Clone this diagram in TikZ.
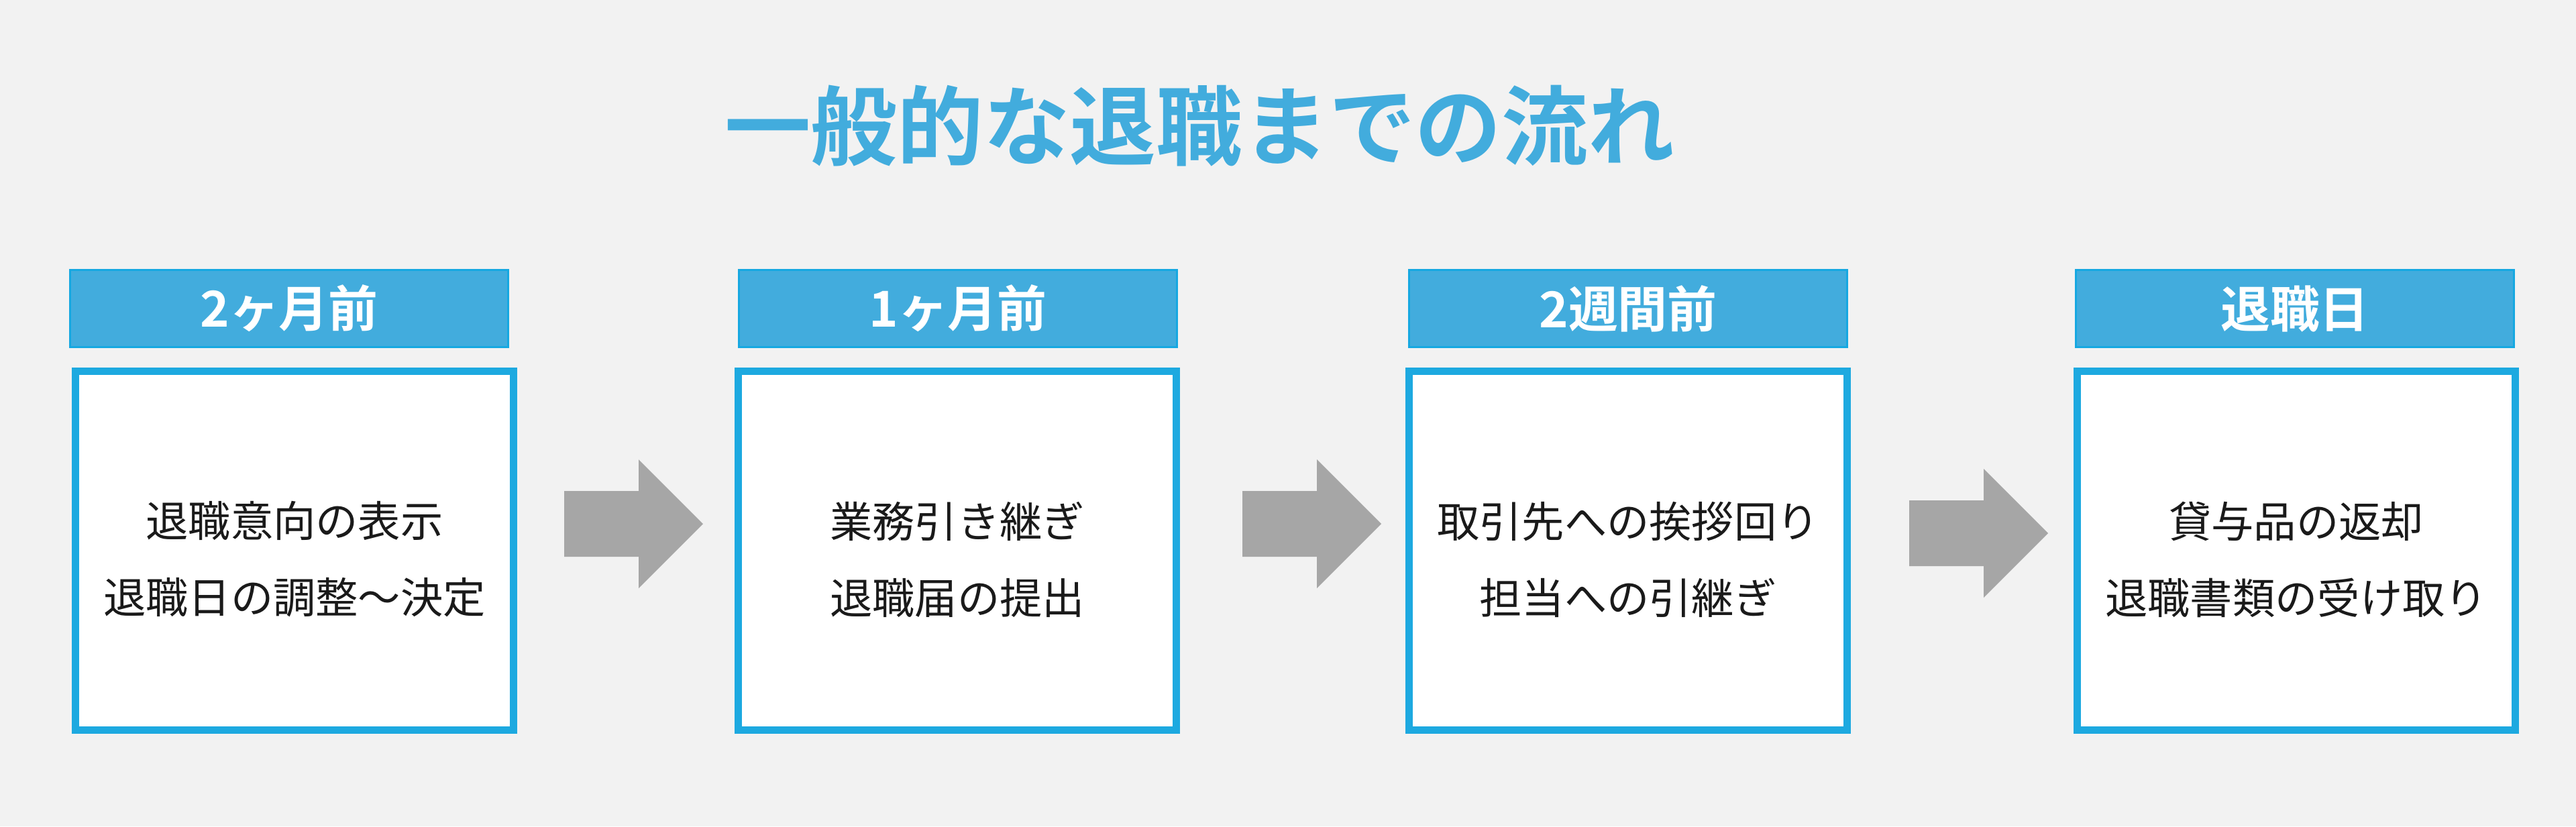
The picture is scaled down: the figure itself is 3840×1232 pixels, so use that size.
\documentclass[tikz,border=0pt]{standalone}
\usepackage{fontspec}
\setmainfont{Noto Sans CJK JP}[BoldFont={Noto Sans CJK JP Bold}]
\definecolor{fondo}{HTML}{F2F2F2}
\definecolor{azul}{HTML}{42ACDD}
\definecolor{bordeazul}{HTML}{16A8E1}
\definecolor{gris}{HTML}{A6A6A6}
\definecolor{texto}{HTML}{1A1A1A}
\tikzset{
  cabecera/.style={fill=azul, draw=bordeazul, line width=0.85pt, minimum width=6.53cm, minimum height=1.14cm,
    inner sep=0pt, text=white, font=\bfseries\fontsize{21pt}{25pt}\selectfont},
  caja/.style={fill=white, draw=bordeazul!85!azul, line width=3.1pt, minimum width=6.53cm, minimum height=5.34cm},
  textocaja/.style={align=center, text=texto, font=\fontsize{18pt}{32.4pt}\selectfont},
  flecha/.pic={\fill[gris] (-103,-49) -- (8,-49) -- (8,-96) -- (104,0) -- (8,96) -- (8,49) -- (-103,49) -- cycle;}
}
\begin{document}
\begin{tikzpicture}[x=0.01cm, y=-0.01cm]
  \fill[fondo] (0,0) rectangle (3840,1232);
  \useasboundingbox (0,0) rectangle (3840,1232);
  \node[text=azul, font=\bfseries\fontsize{36.6pt}{40pt}\selectfont] (titulo) at (1788,188) {一般的な退職までの流れ};
  \node[cabecera] (cab1) at (431,460) {2ヶ月前};
  \node[cabecera] (cab2) at (1428,460) {1ヶ月前};
  \node[cabecera] (cab3) at (2427,460) {2週間前};
  \node[cabecera] (cab4) at (3421,460) {退職日};
  \node[caja] (caja1) at (439,821) {};
  \node[caja] (caja2) at (1427,821) {};
  \node[caja] (caja3) at (2427,821) {};
  \node[caja] (caja4) at (3423,821) {};
  \node[textocaja] (texto1) at ([yshift=-0.13cm]caja1.center) {退職意向の表示\\退職日の調整～決定};
  \node[textocaja] (texto2) at ([yshift=-0.13cm]caja2.center) {業務引き継ぎ\\退職届の提出};
  \node[textocaja] (texto3) at ([yshift=-0.13cm]caja3.center) {取引先への挨拶回り\\担当への引継ぎ};
  \node[textocaja] (texto4) at ([yshift=-0.13cm]caja4.center) {貸与品の返却\\退職書類の受け取り};
  \pic at (944,781) {flecha};
  \pic at (1955,781) {flecha};
  \pic at (2949,795) {flecha};
\end{tikzpicture}
\end{document}
